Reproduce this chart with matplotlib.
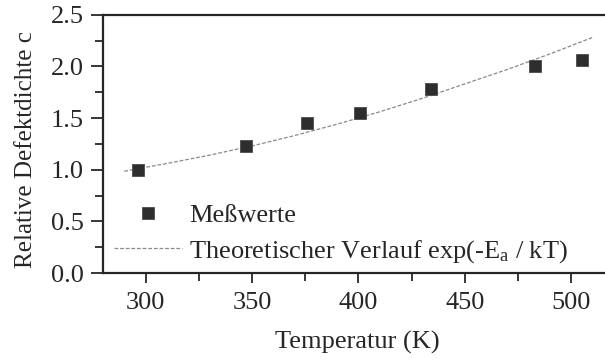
import matplotlib
matplotlib.use("Agg")
import matplotlib.pyplot as plt
from matplotlib.ticker import MultipleLocator

plt.rcParams["font.family"] = ["Liberation Serif", "DejaVu Serif"]
plt.rcParams["mathtext.fontset"] = "custom"
plt.rcParams["mathtext.rm"] = "Liberation Serif"
plt.rcParams["mathtext.it"] = "Liberation Serif:italic"

# measured points
temp_meas = [296.5, 347, 376, 401, 434, 483, 505]
c_meas = [1.00, 1.23, 1.45, 1.55, 1.78, 2.00, 2.06]

# theoretical curve exp(-Ea/kT), normalised
temp_theo = [290, 310, 330, 350, 370, 390, 410, 430, 450, 470, 490, 510]
c_theo = [0.985, 1.06, 1.14, 1.23, 1.33, 1.44, 1.56, 1.69, 1.83, 1.97, 2.12, 2.28]

ink = "#262626"

fig = plt.figure(figsize=(6.05, 3.64), dpi=100)
# axes run past the right edge of the figure
ax = fig.add_axes([103 / 605, 91 / 364, 510.7 / 605, 258.3 / 364])

ax.plot(temp_theo, c_theo, ls=(0, (3, 1.5)), lw=0.9, color="#8a8a8a",
        label=r"Theoretischer Verlauf exp(-E$_\mathrm{a}$ / kT)", zorder=2)
ax.plot(temp_meas, c_meas, ls="none", marker="s", ms=9, mfc="#2e2e2e",
        mec="#4a4a4a", mew=0.6, label="Meßwerte", zorder=3)

ax.set_xlim(280, 520)
ax.set_ylim(0, 2.5)
ax.xaxis.set_major_locator(MultipleLocator(50))
ax.xaxis.set_minor_locator(MultipleLocator(25))
ax.yaxis.set_major_locator(MultipleLocator(0.5))
ax.yaxis.set_minor_locator(MultipleLocator(0.25))
ax.yaxis.set_major_formatter(matplotlib.ticker.FormatStrFormatter("%.1f"))

for side in ["left", "bottom", "top", "right"]:
    ax.spines[side].set_linewidth(1.6)
    ax.spines[side].set_color(ink)

ax.tick_params(which="major", direction="out", length=9, width=1.3,
               color=ink, labelsize=19, labelcolor=ink, pad=5)
ax.tick_params(which="minor", direction="out", length=5.5, width=1.3, color=ink)
ax.tick_params(axis="x", which="major", length=7.5, pad=6)

ax.set_xlabel("Temperatur (K)", fontsize=19, color=ink)
ax.xaxis.set_label_coords(357 / 605, 1 - 331 / 364, transform=fig.transFigure)
ax.set_ylabel("Relative Defektdichte c", fontsize=18, color=ink)
ax.yaxis.set_label_coords(37 / 605, 1 - 150 / 364, transform=fig.transFigure)

handles, labels = ax.get_legend_handles_labels()
ax.legend(handles[::-1], labels[::-1], loc="lower left", frameon=False,
          fontsize=19, handlelength=2.6, handletextpad=0.25, labelspacing=0.42,
          borderaxespad=0, bbox_to_anchor=(0.0, -0.01), labelcolor=ink)

fig.savefig("out.png", dpi=100)
